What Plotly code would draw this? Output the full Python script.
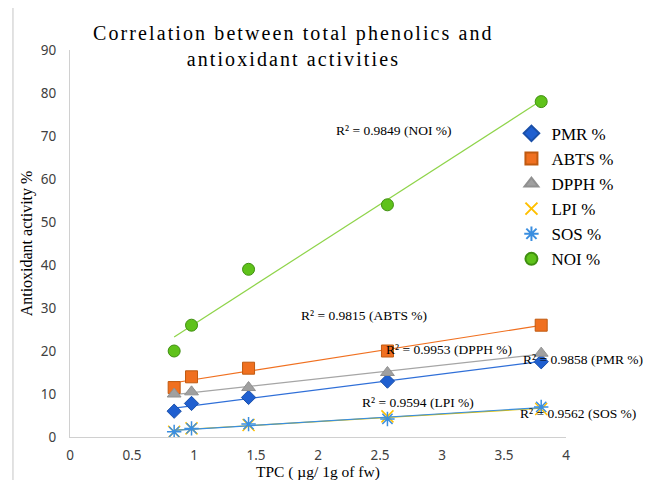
import numpy as np
import plotly.graph_objects as go

tpc = [0.84, 0.98, 1.44, 2.56, 3.80]
pmr = [6.0, 7.8, 9.2, 13.0, 17.5]
abts = [11.5, 14.0, 16.0, 20.0, 26.0]
dpph = [10.0, 10.5, 11.5, 15.0, 19.5]
lpi = [1.2, 2.0, 2.8, 4.8, 6.5]
sos = [1.2, 2.0, 3.0, 4.2, 7.0]
noi = [20.0, 26.0, 39.0, 54.0, 78.0]

names = ["PMR %", "ABTS %", "DPPH %", "LPI %", "SOS %", "NOI %"]
r2_labels = ["R² = 0.9858 (PMR %)", "R² = 0.9815 (ABTS %)", "R² = 0.9953 (DPPH %)",
             "R² = 0.9594 (LPI %)", "R² = 0.9562 (SOS %)", "R² = 0.9849 (NOI %)"]
# label positions in paper fractions of the plot area
r2_pos = [(1.035, 0.200), (0.592, 0.313), (0.765, 0.225), (0.702, 0.088), (1.025, 0.060), (0.653, 0.793)]

series = [pmr, abts, dpph, lpi, sos, noi]
marker_styles = [
    dict(symbol="diamond", color="#1f5fd0", size=11, line=dict(color="#1a4fa8", width=1)),
    dict(symbol="square", color="#f07020", size=12, line=dict(color="#c05a10", width=1)),
    dict(symbol="triangle-up", color="#a0a0a0", size=12, line=dict(color="#909090", width=1)),
    dict(symbol="x-thin-open", color="#ffc000", size=12, line=dict(color="#ffc000", width=1.5)),
    dict(symbol="asterisk-open", color="#3a8ee0", size=12, line=dict(color="#3a8ee0", width=1.5)),
    dict(symbol="circle", color="#5fc21a", size=12, line=dict(color="#3f8f10", width=1)),
]
line_colors = ["#2f6fd8", "#f07020", "#a5a5a5", "#e0c000", "#3a8ee0", "#8fd44a"]

fig = go.Figure()

# trendlines
for ys, lc in zip(series, line_colors):
    a, b = np.polyfit(tpc, ys, 1)
    xs = [min(tpc), max(tpc)]
    fig.add_trace(go.Scatter(x=xs, y=[a * x + b for x in xs], mode="lines",
                             line=dict(color=lc, width=1.2), showlegend=False,
                             hoverinfo="skip"))

for ys, nm, ms in zip(series, names, marker_styles):
    fig.add_trace(go.Scatter(x=tpc, y=ys, mode="markers", name=nm, marker=ms))

for txt, (px, py) in zip(r2_labels, r2_pos):
    fig.add_annotation(xref="paper", yref="paper", x=px, y=py, text=txt, showarrow=False,
                       xanchor="center", yanchor="middle",
                       font=dict(family="Liberation Serif", size=13.5, color="#000000"))

fig.add_shape(type="rect", xref="paper", yref="paper", x0=-0.115, y0=-0.3, x1=1.3, y1=1.114,
              line=dict(color="#d9d9d9", width=1.5), fillcolor="rgba(0,0,0,0)", layer="below")

title_text = ('<span style="letter-spacing:2.1px">Correlation between total phenolics and</span><br>'
              '<span style="letter-spacing:2.1px">antioxidant activities</span>')
fig.add_annotation(xref="paper", yref="paper", x=(293 - 70) / 496, y=(437 - 46) / 387,
                   xanchor="center", yanchor="middle", showarrow=False, text=title_text,
                   font=dict(family="Liberation Serif", size=20, color="#000000"))

# x-axis title
fig.add_annotation(xref="paper", yref="paper", x=0.5, y=(437 - 472) / 387,
                   xanchor="center", yanchor="middle", showarrow=False,
                   text="TPC ( µg/ 1g of fw)",
                   font=dict(family="Liberation Serif", size=15.5, color="#000000"))

fig.update_layout(
    width=651, height=480,
    margin=dict(l=62, r=93, t=42, b=51),
    paper_bgcolor="white", plot_bgcolor="white",
    xaxis=dict(range=[0, 4], dtick=0.5, showgrid=False, zeroline=False, automargin=False,
               showline=True, linecolor="#d0d0d0", linewidth=1, ticks="",
               ticklabelstandoff=6,
               tickfont=dict(family="Noto Sans", size=13.5, color="#404040")),
    yaxis=dict(range=[0, 90], dtick=10, showgrid=False, zeroline=False, automargin=False,
               showline=True, linecolor="#d0d0d0", linewidth=1, ticks="",
               ticklabelstandoff=10,
               tickfont=dict(family="Noto Sans", size=13.5, color="#404040"),
               title=dict(text="Antioxidant activity %", standoff=4,
                          font=dict(family="Liberation Serif", size=16, color="#000000"))),
    legend=dict(x=0.89, y=0.83, xanchor="left", yanchor="top", itemwidth=30,
                bgcolor="rgba(0,0,0,0)", itemsizing="constant", tracegroupgap=0,
                font=dict(family="Liberation Serif", size=17, color="#000000")),
)

fig.write_html("out.html")
